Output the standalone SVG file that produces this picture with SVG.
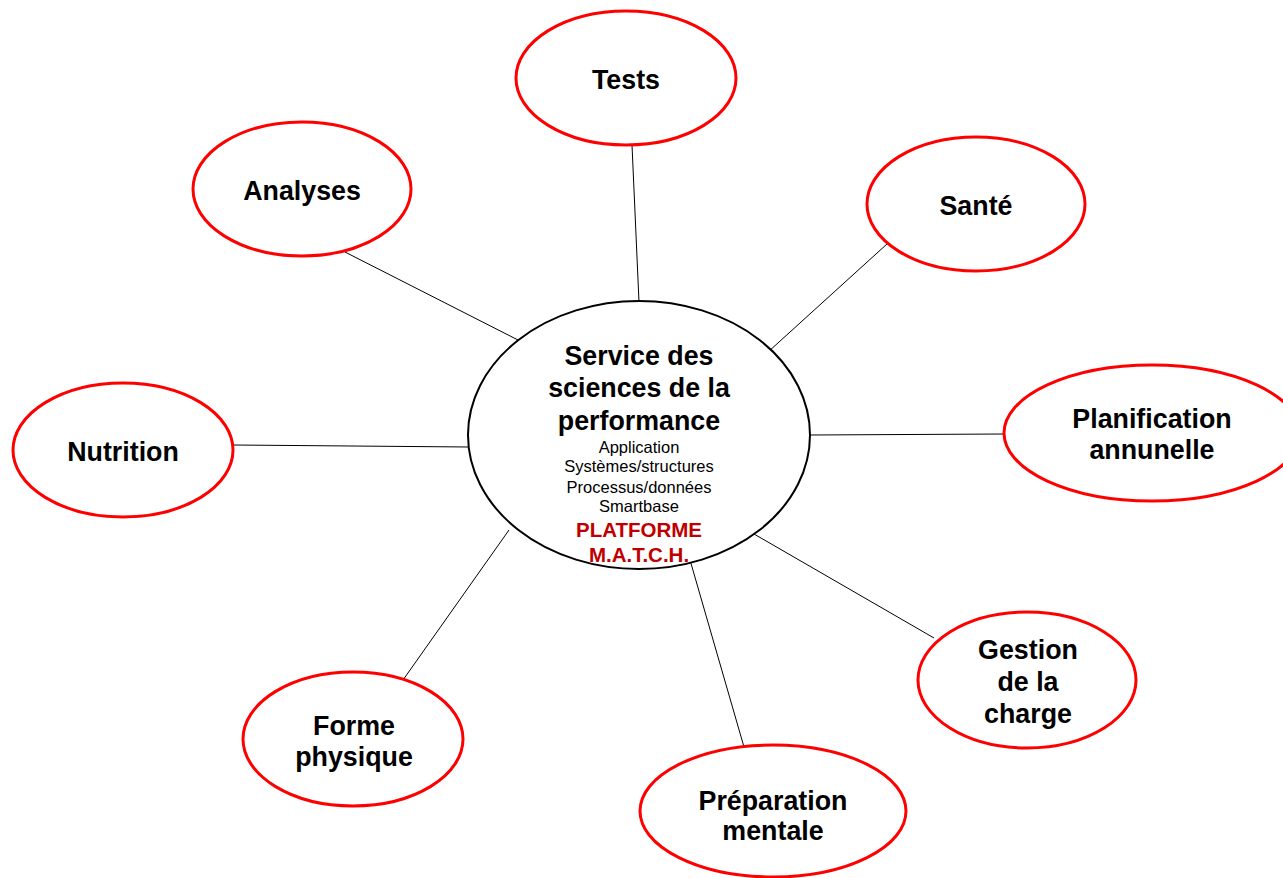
<svg xmlns="http://www.w3.org/2000/svg" width="1283" height="878" viewBox="0 0 1283 878">
<style>
.n{fill:#fff;stroke:#f00;stroke-width:3}
.c{fill:#fff;stroke:#000;stroke-width:2}
.t{font-family:"Liberation Sans",Arial,sans-serif;font-weight:bold;font-size:26.8px;fill:#000;text-anchor:middle}
.s{font-family:"Liberation Sans",Arial,sans-serif;font-size:16.5px;fill:#000;text-anchor:middle}
.r{font-family:"Liberation Sans",Arial,sans-serif;font-weight:bold;font-size:20.5px;fill:#c00000;text-anchor:middle}
.e{stroke:#000;stroke-width:1;fill:none}
</style>
<rect width="1283" height="878" fill="#fff"/>
<g id="connectors">
<line class="e" x1="632" y1="145" x2="639" y2="302"/>
<line class="e" x1="345" y1="252" x2="518" y2="340"/>
<line class="e" x1="887" y1="244" x2="768" y2="352"/>
<line class="e" x1="810" y1="435" x2="1004" y2="434"/>
<line class="e" x1="233" y1="445" x2="469" y2="447"/>
<line class="e" x1="403" y1="680" x2="509" y2="530"/>
<line class="e" x1="744" y1="747" x2="690" y2="560"/>
<line class="e" x1="934" y1="638" x2="754" y2="534"/>
</g>
<g id="center">
<ellipse class="c" cx="639" cy="435" rx="171" ry="134"/>
<text class="t" x="639" y="365">Service des</text>
<text class="t" x="639" y="397">sciences de la</text>
<text class="t" x="639" y="430">performance</text>
<text class="s" x="639" y="453">Application</text>
<text class="s" x="639" y="472">Systèmes/structures</text>
<text class="s" x="639" y="493">Processus/données</text>
<text class="s" x="639" y="512">Smartbase</text>
<text class="r" x="639" y="537">PLATFORME</text>
<text class="r" x="639" y="562">M.A.T.C.H.</text>
</g>
<g id="tests">
<ellipse class="n" cx="626" cy="78" rx="110" ry="67"/>
<text class="t" x="626" y="89">Tests</text>
</g>
<g id="analyses">
<ellipse class="n" cx="302" cy="189" rx="109" ry="67"/>
<text class="t" x="302" y="200">Analyses</text>
</g>
<g id="sante">
<ellipse class="n" cx="976" cy="204" rx="109" ry="67"/>
<text class="t" x="976" y="215">Santé</text>
</g>
<g id="planification">
<ellipse class="n" cx="1152" cy="433" rx="148" ry="68"/>
<text class="t" x="1152" y="428">Planification</text>
<text class="t" x="1152" y="459">annunelle</text>
</g>
<g id="nutrition">
<ellipse class="n" cx="123" cy="450" rx="110" ry="67"/>
<text class="t" x="123" y="461">Nutrition</text>
</g>
<g id="forme">
<ellipse class="n" cx="353" cy="739" rx="110" ry="67"/>
<text class="t" x="354" y="735">Forme</text>
<text class="t" x="354" y="766">physique</text>
</g>
<g id="preparation">
<ellipse class="n" cx="773" cy="811" rx="133" ry="66"/>
<text class="t" x="773" y="810">Préparation</text>
<text class="t" x="773" y="840">mentale</text>
</g>
<g id="gestion">
<ellipse class="n" cx="1027" cy="680" rx="109" ry="68"/>
<text class="t" x="1028" y="659">Gestion</text>
<text class="t" x="1028" y="691">de la</text>
<text class="t" x="1028" y="723">charge</text>
</g>
</svg>
